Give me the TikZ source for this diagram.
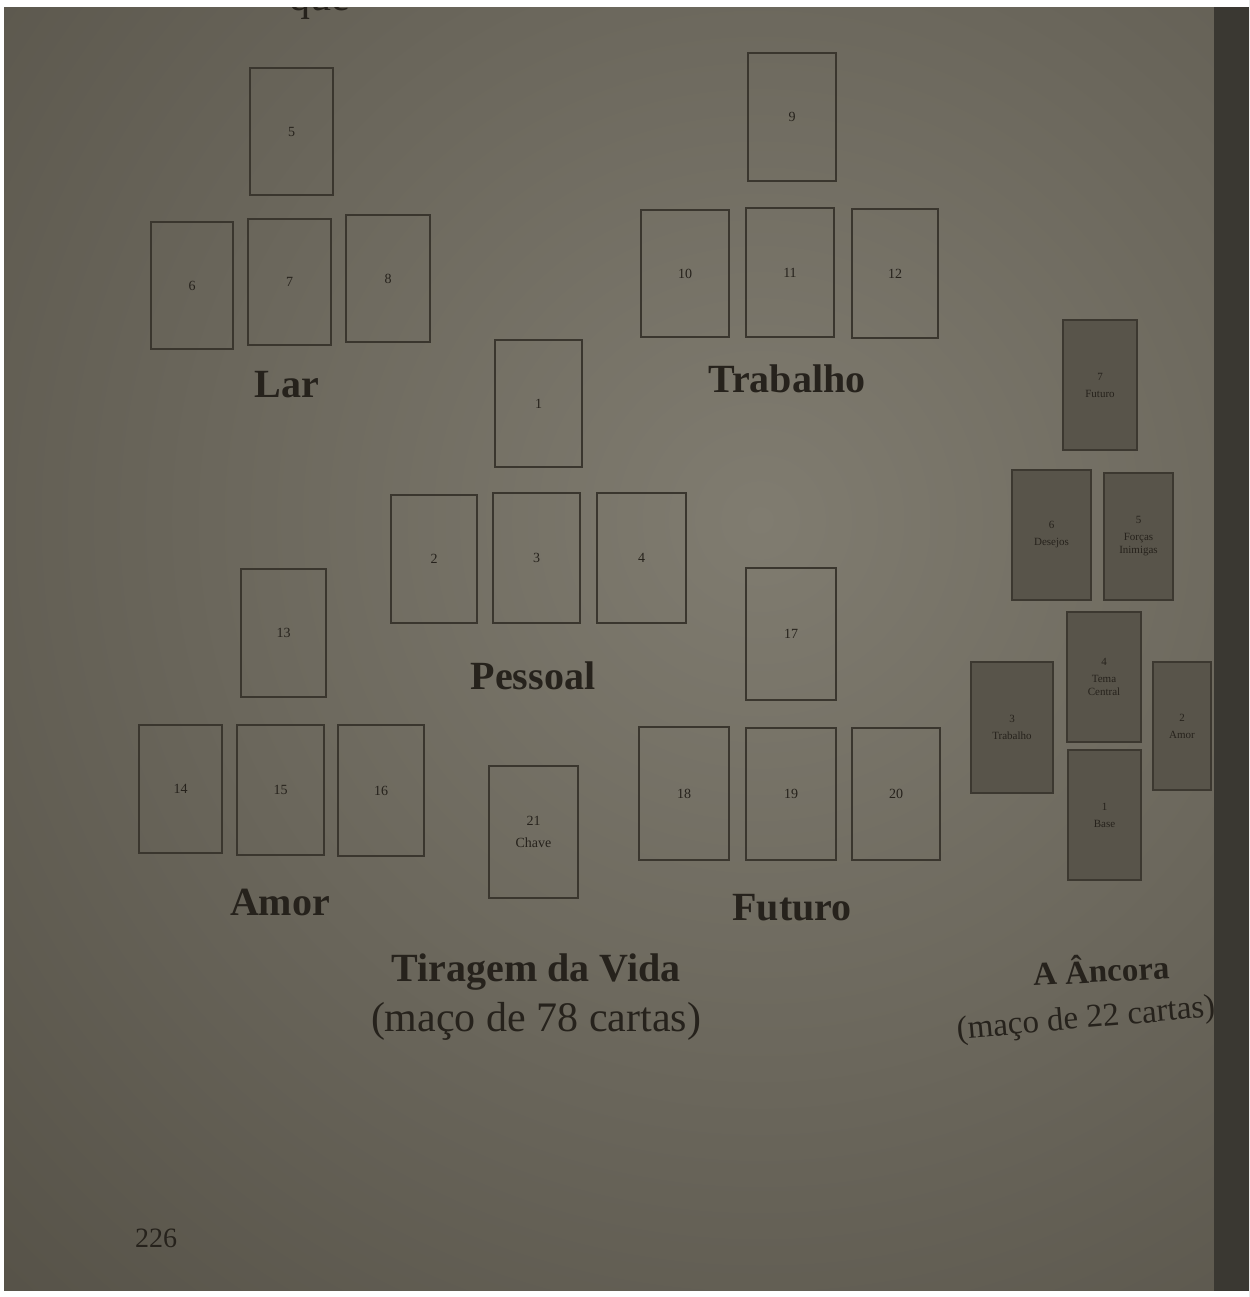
\documentclass[tikz,border=0pt]{standalone}
\usepackage{fontspec}
\setmainfont{Liberation Serif}
\definecolor{paper}{RGB}{108,104,93}
\definecolor{paperlight}{RGB}{128,124,112}
\definecolor{paperdark}{RGB}{84,80,70}
\definecolor{ink}{RGB}{38,34,28}
\definecolor{cardline}{RGB}{58,54,46}
\definecolor{anchorfill}{RGB}{88,84,74}
\definecolor{anchorline}{RGB}{60,56,48}
\definecolor{gutter}{RGB}{58,56,50}
\tikzset{
  card/.style={draw=cardline, line width=0.8pt, inner sep=0pt, align=center,
    font=\fontsize{7}{8}\selectfont, text=ink},
  anchorcard/.style={card, fill=anchorfill, draw=anchorline,
    font=\fontsize{5.5}{6.5}\selectfont},
  grouptitle/.style={font=\bfseries\fontsize{20}{22}\selectfont, text=ink},
  subtitle/.style={font=\fontsize{21}{23}\selectfont, text=ink},
}
% card: name, left, top, right, bottom (page units), text
\newcommand\crd[7][card]{%
  \node[#1, minimum width={(#5-#3)*0.5pt}, minimum height={(#6-#4)*0.5pt}]
    (#2) at ({(#3+#5)/2},{(#4+#6)/2}) {#7};}
\begin{document}
\begin{tikzpicture}[x=0.5pt, y=-0.5pt]
\useasboundingbox (0,0) rectangle (1249,1297);
\clip (0,0) rectangle (1249,1297);
% page background with uneven lighting
\fill[paperdark] (0,0) rectangle (1249,1297);
\shade[inner color=paperlight, outer color=paperdark] (760,520) circle (1150);
% gutter on the right
\fill[gutter] (1214,0) rectangle (1249,1297);
% frame of the print
\fill[white] (0,0) rectangle (1249,7);
\fill[white] (0,0) rectangle (4,1297);
\fill[white] (0,1291) rectangle (1249,1297);

% last line of the previous text, cut by the page top
\node[subtitle, anchor=base west] (prevline) at (282,10) {que};
\fill[white] (0,0) rectangle (1214,7);

% ---- Lar ----
\crd{c5}{250}{68}{333}{195}{5}
\crd{c6}{151}{222}{233}{349}{6}
\crd{c7}{248}{219}{331}{345}{7}
\crd{c8}{346}{215}{430}{342}{8}
\node[grouptitle] (lar) at (287,385) {Lar};

% ---- Trabalho ----
\crd{c9}{748}{53}{836}{181}{9}
\crd{c10}{641}{210}{729}{337}{10}
\crd{c11}{746}{208}{834}{337}{11}
\crd{c12}{852}{209}{938}{338}{12}
\node[grouptitle] (trabalho) at (787,379) {Trabalho};

% ---- Pessoal ----
\crd{c1}{495}{340}{582}{467}{1}
\crd{c2}{391}{495}{477}{623}{2}
\crd{c3}{493}{493}{580}{623}{3}
\crd{c4}{597}{493}{686}{623}{4}
\node[grouptitle] (pessoal) at (533,676) {Pessoal};

% ---- Amor ----
\crd{c13}{241}{569}{326}{697}{13}
\crd{c14}{139}{725}{222}{853}{14}
\crd{c15}{237}{725}{324}{855}{15}
\crd{c16}{338}{725}{424}{856}{16}
\node[grouptitle] (amor) at (280,902) {Amor};

% ---- Futuro ----
\crd{c17}{746}{568}{836}{700}{17}
\crd{c18}{639}{727}{729}{860}{18}
\crd{c19}{746}{728}{836}{860}{19}
\crd{c20}{852}{728}{940}{860}{20}
\node[grouptitle] (futuro) at (792,908) {Futuro};

% ---- key card ----
\crd{c21}{489}{766}{578}{898}{21\\[3pt]Chave}

\node[grouptitle] (vida) at (536,972) {Tiragem da Vida};
\node[subtitle] (vidasub) at (536,1021) {(maço de 78 cartas)};

% ---- A Âncora ----
\crd[anchorcard]{a7}{1063}{320}{1137}{450}{7\\[2pt]Futuro}
\crd[anchorcard]{a6}{1012}{470}{1091}{600}{6\\[2pt]Desejos}
\crd[anchorcard]{a5}{1104}{473}{1173}{600}{5\\[2pt]Forças\\Inimigas}
\crd[anchorcard]{a4}{1067}{612}{1141}{742}{4\\[2pt]Tema\\Central}
\crd[anchorcard]{a3}{971}{662}{1053}{793}{3\\[2pt]Trabalho}
\crd[anchorcard]{a2}{1153}{662}{1211}{790}{2\\[2pt]Amor}
\crd[anchorcard]{a1}{1068}{750}{1141}{880}{1\\[2pt]Base}

\node[font=\bfseries\fontsize{16.5}{18}\selectfont, text=ink, rotate=3]
  (ancora) at (1101,968) {A Âncora};
\node[font=\fontsize{16.5}{18}\selectfont, text=ink, rotate=5]
  (ancorasub) at (1086,1020) {(maço de 22 cartas)};

% page number
\node[font=\fontsize{14}{16}\selectfont, text=ink] (folio) at (156,1238) {226};
\end{tikzpicture}
\end{document}
